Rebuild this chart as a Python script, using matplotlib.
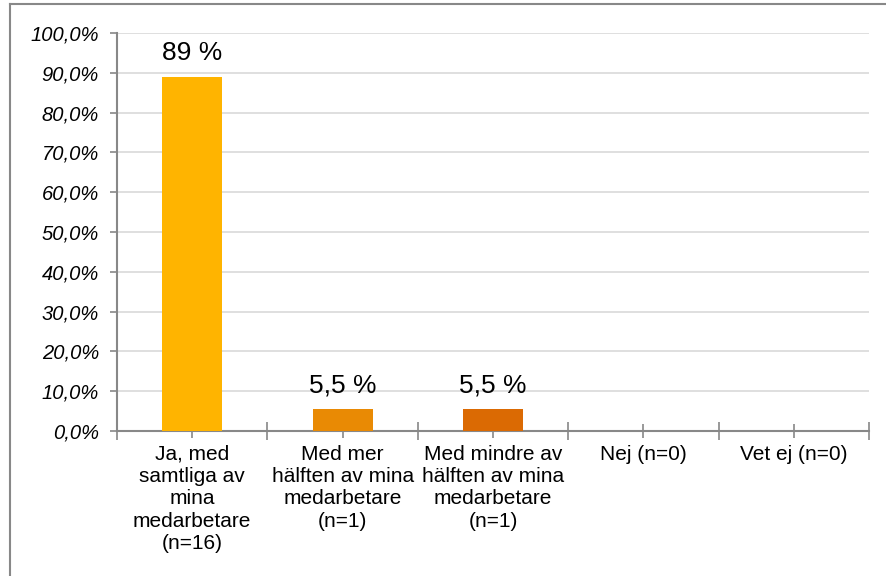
import matplotlib
matplotlib.use("Agg")
import matplotlib.pyplot as plt
from matplotlib.ticker import FuncFormatter, FixedLocator
from matplotlib.lines import Line2D

plt.rcParams['font.family'] = ['Liberation Sans', 'DejaVu Sans']

categories = [
    "Ja, med\nsamtliga av\nmina\nmedarbetare\n(n=16)",
    "Med mer\nhälften av mina\nmedarbetare\n(n=1)",
    "Med mindre av\nhälften av mina\nmedarbetare\n(n=1)",
    "Nej (n=0)",
    "Vet ej (n=0)",
]
values = [89, 5.5, 5.5, 0, 0]
bar_colors = ["#FFB400", "#E98A04", "#DB6A03", "#C85A00", "#B04C00"]
y_ticks = [0, 10, 20, 30, 40, 50, 60, 70, 80, 90, 100]

fig = plt.figure(figsize=(8.86, 5.76), dpi=100)
ax = fig.add_axes([117 / 886, 1 - 431 / 576, (869 - 117) / 886, (431 - 33) / 576])

x = list(range(len(categories)))
ax.bar(x, values, width=0.4, color=bar_colors, zorder=3)

for xi, v in zip(x, values):
    if v > 0:
        txt = f"{v:g}".replace(".", ",") + " %"
        ax.annotate(txt, (xi, v), xytext=(0, 17), textcoords="offset points",
                    ha="center", va="center", fontsize=19, color="black")

ax.set_xlim(-0.5, len(categories) - 0.5)
ax.set_ylim(0, 100)

ax.yaxis.set_major_locator(FixedLocator(y_ticks))
ax.yaxis.set_major_formatter(FuncFormatter(lambda v, p: f"{v:.1f}".replace(".", ",") + "%"))
ax.tick_params(axis="y", direction="out", length=5, width=1.2, color="#888888",
               labelsize=14.5, pad=8)
for lbl in ax.get_yticklabels():
    lbl.set_fontstyle("italic")

ax.set_xticks(x)
ax.set_xticks([i - 0.5 for i in range(len(categories) + 1)], minor=True)
ax.tick_params(axis="x", which="major", direction="inout", length=10, width=1.2,
               color="#888888", pad=5, labelsize=15)
ax.tick_params(axis="x", which="minor", direction="inout", length=13, width=1.2,
               color="#888888")
ax.set_xticklabels(categories, fontsize=15, linespacing=1.22)

ax.grid(axis="y", color="#d9d9d9", linewidth=1.2, zorder=0)
ax.set_axisbelow(True)
for side in ["top", "right"]:
    ax.spines[side].set_visible(False)
for side in ["left", "bottom"]:
    ax.spines[side].set_color("#888888")
    ax.spines[side].set_linewidth(1.5)

# outer frame (top and left edges)
fig.add_artist(Line2D([9.5 / 886, 1.0], [1 - 4 / 576, 1 - 4 / 576],
                      transform=fig.transFigure, color="#888888", linewidth=1.5))
fig.add_artist(Line2D([9.5 / 886, 9.5 / 886], [0, 1 - 4 / 576],
                      transform=fig.transFigure, color="#888888", linewidth=1.5))

fig.savefig("out.png", dpi=100, facecolor="white")
